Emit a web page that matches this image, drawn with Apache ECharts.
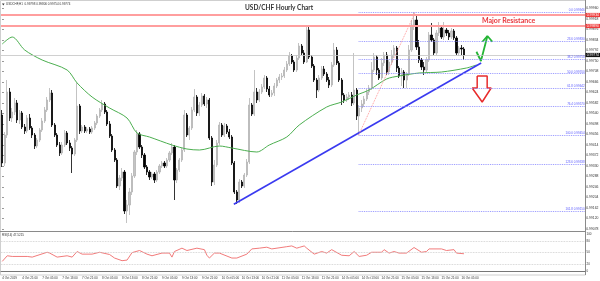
<!DOCTYPE html>
<html><head><meta charset="utf-8">
<script src="https://cdn.jsdelivr.net/npm/echarts@6/dist/echarts.min.js"></script>
<style>html,body{margin:0;padding:0;background:#fff}#c{width:600px;height:281px}</style>
</head><body><div id="c"></div>
<script>
// ---- data ----
const tickLabels = ["4 Oct 2019","4 Oct 21:00","7 Oct 05:00","7 Oct 13:00","7 Oct 21:00","8 Oct 05:00","8 Oct 13:00","8 Oct 21:00","9 Oct 05:00","9 Oct 13:00","9 Oct 21:00","10 Oct 05:00","10 Oct 13:00","10 Oct 21:00","11 Oct 05:00","11 Oct 13:00","11 Oct 21:00","14 Oct 05:00","14 Oct 13:00","14 Oct 21:00","15 Oct 05:00","15 Oct 13:00","15 Oct 21:00","16 Oct 05:00"];
const barsPerLabel = 8;
const totalSlots = 234;
// [open, close, low, high]
const candles = [
[0.99534,0.99342,0.99326,0.99554],[0.99342,0.99454,0.99330,0.99466],[0.99454,0.99626,0.99442,0.99674],[0.99626,0.99522,0.99510,0.99642],
[0.99522,0.99546,0.99506,0.99562],[0.99546,0.99582,0.99534,0.99602],[0.99582,0.99514,0.99502,0.99594],[0.99514,0.99542,0.99498,0.99554],
[0.99542,0.99486,0.99478,0.99550],[0.99486,0.99470,0.99458,0.99498],[0.99470,0.99522,0.99462,0.99534],[0.99522,0.99482,0.99474,0.99538],
[0.99482,0.99454,0.99442,0.99490],[0.99454,0.99410,0.99398,0.99462],[0.99410,0.99434,0.99402,0.99442],[0.99434,0.99474,0.99426,0.99482],
[0.99474,0.99510,0.99466,0.99522],[0.99510,0.99554,0.99502,0.99566],[0.99554,0.99594,0.99546,0.99606],[0.99594,0.99622,0.99586,0.99642],
[0.99622,0.99494,0.99486,0.99634],[0.99494,0.99454,0.99446,0.99502],[0.99454,0.99414,0.99406,0.99462],[0.99414,0.99382,0.99370,0.99426],
[0.99382,0.99414,0.99374,0.99426],[0.99414,0.99462,0.99406,0.99474],[0.99462,0.99422,0.99414,0.99470],[0.99422,0.99402,0.99390,0.99434],
[0.99402,0.99378,0.99302,0.99410],[0.99378,0.99434,0.99370,0.99442],[0.99434,0.99570,0.99426,0.99662],[0.99570,0.99470,0.99458,0.99578],
[0.99470,0.99486,0.99462,0.99494],[0.99486,0.99470,0.99462,0.99494],[0.99470,0.99478,0.99462,0.99486],[0.99478,0.99466,0.99458,0.99486],
[0.99466,0.99482,0.99458,0.99490],[0.99482,0.99502,0.99474,0.99510],[0.99502,0.99530,0.99494,0.99538],[0.99530,0.99554,0.99522,0.99562],
[0.99554,0.99578,0.99546,0.99594],[0.99578,0.99546,0.99538,0.99586],[0.99546,0.99498,0.99490,0.99554],[0.99498,0.99450,0.99442,0.99510],
[0.99450,0.99394,0.99386,0.99458],[0.99394,0.99354,0.99346,0.99402],[0.99354,0.99250,0.99242,0.99362],[0.99250,0.99282,0.99234,0.99294],
[0.99282,0.99306,0.99270,0.99322],[0.99306,0.99150,0.99138,0.99314],[0.99150,0.99174,0.99102,0.99194],[0.99174,0.99226,0.99134,0.99242],
[0.99226,0.99290,0.99214,0.99302],[0.99290,0.99386,0.99282,0.99394],[0.99386,0.99458,0.99374,0.99474],[0.99458,0.99406,0.99398,0.99466],
[0.99406,0.99374,0.99362,0.99414],[0.99374,0.99326,0.99318,0.99382],[0.99326,0.99306,0.99294,0.99334],[0.99306,0.99286,0.99274,0.99314],
[0.99286,0.99298,0.99278,0.99306],[0.99298,0.99274,0.99262,0.99306],[0.99274,0.99306,0.99266,0.99314],[0.99306,0.99330,0.99298,0.99338],
[0.99330,0.99342,0.99322,0.99350],[0.99342,0.99330,0.99322,0.99350],[0.99330,0.99354,0.99322,0.99362],[0.99354,0.99382,0.99346,0.99390],
[0.99382,0.99406,0.99374,0.99422],[0.99406,0.99274,0.99194,0.99414],[0.99274,0.99314,0.99262,0.99322],[0.99314,0.99354,0.99306,0.99362],
[0.99354,0.99394,0.99346,0.99402],[0.99394,0.99534,0.99386,0.99554],[0.99534,0.99454,0.99446,0.99542],[0.99454,0.99482,0.99434,0.99490],
[0.99482,0.99554,0.99474,0.99566],[0.99554,0.99606,0.99546,0.99638],[0.99606,0.99542,0.99530,0.99614],[0.99542,0.99574,0.99530,0.99586],
[0.99574,0.99610,0.99566,0.99622],[0.99610,0.99578,0.99570,0.99618],[0.99578,0.99594,0.99562,0.99606],[0.99594,0.99442,0.99434,0.99602],
[0.99442,0.99266,0.99250,0.99450],[0.99266,0.99334,0.99254,0.99354],[0.99334,0.99422,0.99326,0.99434],[0.99422,0.99494,0.99414,0.99506],
[0.99494,0.99454,0.99446,0.99502],[0.99454,0.99490,0.99446,0.99502],[0.99490,0.99466,0.99458,0.99498],[0.99466,0.99446,0.99438,0.99478],
[0.99446,0.99342,0.99334,0.99454],[0.99342,0.99226,0.99218,0.99350],[0.99226,0.99194,0.99178,0.99234],[0.99194,0.99266,0.99182,0.99278],
[0.99266,0.99250,0.99242,0.99274],[0.99250,0.99294,0.99242,0.99302],[0.99294,0.99346,0.99286,0.99358],[0.99346,0.99574,0.99338,0.99602],
[0.99574,0.99538,0.99530,0.99582],[0.99538,0.99626,0.99530,0.99714],[0.99626,0.99594,0.99582,0.99642],[0.99594,0.99626,0.99586,0.99638],
[0.99626,0.99646,0.99618,0.99658],[0.99646,0.99682,0.99638,0.99694],[0.99682,0.99638,0.99626,0.99690],[0.99638,0.99614,0.99606,0.99650],
[0.99614,0.99622,0.99606,0.99634],[0.99622,0.99650,0.99610,0.99662],[0.99650,0.99674,0.99642,0.99682],[0.99674,0.99686,0.99662,0.99698],
[0.99686,0.99690,0.99674,0.99702],[0.99690,0.99714,0.99682,0.99726],[0.99714,0.99738,0.99706,0.99750],[0.99738,0.99770,0.99730,0.99786],
[0.99770,0.99746,0.99738,0.99778],[0.99746,0.99714,0.99706,0.99754],[0.99714,0.99762,0.99706,0.99774],[0.99762,0.99810,0.99754,0.99822],
[0.99810,0.99782,0.99774,0.99818],[0.99782,0.99746,0.99738,0.99794],[0.99746,0.99874,0.99742,0.99890],[0.99874,0.99766,0.99758,0.99886],
[0.99766,0.99730,0.99722,0.99774],[0.99730,0.99674,0.99666,0.99738],[0.99674,0.99634,0.99602,0.99682],[0.99634,0.99682,0.99626,0.99694],
[0.99682,0.99718,0.99674,0.99730],[0.99718,0.99698,0.99690,0.99730],[0.99698,0.99674,0.99666,0.99706],[0.99674,0.99654,0.99642,0.99686],
[0.99654,0.99734,0.99646,0.99746],[0.99734,0.99794,0.99726,0.99822],[0.99794,0.99742,0.99734,0.99806],[0.99742,0.99674,0.99666,0.99750],
[0.99674,0.99614,0.99574,0.99682],[0.99614,0.99594,0.99582,0.99622],[0.99594,0.99606,0.99586,0.99618],[0.99606,0.99614,0.99594,0.99626],
[0.99614,0.99582,0.99570,0.99626],[0.99582,0.99634,0.99574,0.99782],[0.99634,0.99530,0.99514,0.99642],[0.99530,0.99562,0.99454,0.99574],
[0.99562,0.99578,0.99546,0.99594],[0.99578,0.99598,0.99566,0.99610],[0.99598,0.99626,0.99590,0.99638],[0.99626,0.99642,0.99614,0.99654],
[0.99642,0.99714,0.99634,0.99746],[0.99714,0.99766,0.99706,0.99782],[0.99766,0.99714,0.99694,0.99774],[0.99714,0.99682,0.99674,0.99722],
[0.99682,0.99742,0.99674,0.99762],[0.99742,0.99774,0.99730,0.99786],[0.99774,0.99706,0.99694,0.99786],[0.99706,0.99746,0.99694,0.99754],
[0.99746,0.99774,0.99734,0.99794],[0.99774,0.99802,0.99762,0.99814],[0.99802,0.99722,0.99706,0.99810],[0.99722,0.99690,0.99682,0.99730],
[0.99690,0.99706,0.99650,0.99722],[0.99706,0.99674,0.99642,0.99714],[0.99674,0.99698,0.99642,0.99706],[0.99698,0.99794,0.99690,0.99814],
[0.99794,0.99894,0.99786,0.99914],[0.99894,0.99914,0.99874,0.99946],[0.99914,0.99806,0.99794,0.99934],[0.99806,0.99754,0.99742,0.99834],
[0.99754,0.99726,0.99714,0.99762],[0.99726,0.99714,0.99694,0.99746],[0.99714,0.99754,0.99706,0.99766],[0.99754,0.99854,0.99746,0.99866],
[0.99854,0.99834,0.99826,0.99902],[0.99834,0.99782,0.99774,0.99842],[0.99782,0.99862,0.99774,0.99874],[0.99862,0.99882,0.99850,0.99906],
[0.99882,0.99846,0.99838,0.99890],[0.99846,0.99874,0.99834,0.99906],[0.99874,0.99862,0.99850,0.99882],[0.99862,0.99846,0.99834,0.99874],
[0.99846,0.99870,0.99838,0.99882],[0.99870,0.99842,0.99834,0.99878],[0.99842,0.99782,0.99774,0.99850],[0.99782,0.99802,0.99770,0.99810],
[0.99802,0.99798,0.99774,0.99814],[0.99798,0.99774,0.99754,0.99806]
];
// moving average (green), [bar, price]
const maPoints = [[0,0.99818],[4,0.99846],[9,0.99794],[16,0.99754],[26,0.99714],[30,0.99662],[36,0.99606],[43,0.99562],[50,0.99522],[54,0.99462],[59,0.99446],[68,0.99414],[74,0.99398],[79,0.99394],[87,0.99410],[92,0.99402],[102,0.99386],[107,0.99414],[114,0.99446],[119,0.99494],[130,0.99566],[136,0.99586],[142,0.99614],[147,0.99634],[154,0.99678],[159,0.99690],[167,0.99702],[176,0.99706],[186,0.99722],[190,0.99734]];
// RSI(14), [bar, value]
const rsiPoints = [[0,26.5],[2,41.6],[4,39.8],[10,39.8],[12,38],[18,51],[19,48.8],[22,38],[26,41.6],[28,38],[30,53],[32,46],[36,46],[39,51],[43,45],[45,35.5],[48,28.4],[50,30],[52,50],[55,55.7],[58,46],[60,41.6],[64,48.8],[67,48.8],[68,38],[69,53],[72,62],[74,55.7],[78,62],[81,58],[82,43],[83,35.5],[85,48.8],[87,48.8],[92,35.5],[94,35.5],[98,46],[100,60],[103,62],[106,64.6],[108,60],[114,66],[116,68],[118,62],[119,64],[121,68],[122,62],[125,46],[128,53],[130,48.8],[132,58],[136,43],[139,41.6],[141,53],[143,39.8],[146,43],[148,51],[152,51],[153,58],[155,48.8],[157,53],[159,48.8],[162,48.8],[165,63.7],[168,51],[170,53],[171,60],[176,60],[178,55.7],[181,58],[182,48.8],[185,47]];
const rsiLevels = [80, 50, 20];
const rsiAxisLabels = [0, 20, 50, 80, 100];
const trendLine = [[92.8,0.99177],[191.9,0.99742]];
const resistance = [0.99934, 0.99890];
const lastPrice = 0.99774;
const fibHigh = 0.99946, fibLow = 0.99454;
const fibRatios = [0, 23.6, 38.2, 50, 61.8, 76.4, 100, 123.6, 161.8];
const fibSwing = [[142.8,0.99454],[165.5,0.99946]];
const greenArrow = [[190.0,0.99787],[191.8,0.99750],[194.4,0.99850]];
const greenHead = [[192.4,0.99827],[194.4,0.99850],[196.4,0.99827]];
const redArrow = [[190.3,0.99690],[194.3,0.99690],[194.3,0.99642],[195.9,0.99642],[192.3,0.99586],[188.3,0.99642],[190.3,0.99642],[190.3,0.99690]];
const headerText = 'USDCHF,H1  0.99798 0.99806 0.99754 0.99774';
const rsiText = 'RSI(14) 47.5215';

// ---- chart ----
const cats = Array.from({length: totalSlots}, (_, i) => String(i));
const showIdx = (i) => i % barsPerLabel === 0 && i / barsPerLabel < tickLabels.length;
const fibPrice = r => fibHigh - (fibHigh - fibLow) * r / 100;
const small = 'Liberation Sans';
const plainLine = (name, data, color, width, type, extra) => Object.assign({
  name, type: 'line', xAxisIndex: 1, yAxisIndex: 0, data, showSymbol: false, symbol: 'none',
  lineStyle: {color, width, type: type || 'solid'}, silent: true, animation: false, z: 4
}, extra || {});
const hLine = (value, color, width, bg) => [
  {coord: [-0.5, value], lineStyle: {color, width, type: 'solid'},
    label: {show: true, position: 'end', distance: 0.5, formatter: value.toFixed(5), color: '#fff', backgroundColor: bg, fontSize: 3.4, padding: [0.6, 1.2], fontFamily: small}},
  {coord: [totalSlots - 0.5, value]}
];

const chart = echarts.init(document.getElementById('c'), null, {renderer: 'canvas'});
chart.setOption({
  animation: false,
  backgroundColor: '#ffffff',
  title: [
    {text: 'USD/CHF Hourly Chart', left: 245, top: 4, padding: 0, textStyle: {fontSize: 6.5, fontWeight: 'bold', color: '#333', fontFamily: 'Lato'}},
    {text: 'Major Resistance', left: 482, top: 16.8, padding: 0, textStyle: {fontSize: 7, fontWeight: 'bold', color: '#e8373d', fontFamily: 'Lato'}},
    {text: headerText, left: 6, top: 3, padding: 0, textStyle: {fontSize: 3, fontWeight: 'normal', color: '#333', fontFamily: small}},
    {text: rsiText, left: 2, top: 233.3, padding: 0, textStyle: {fontSize: 3, fontWeight: 'normal', color: '#333', fontFamily: small}}
  ],
  grid: [
    {left: 1, right: 15, top: 8.5, height: 220.5, containLabel: false, outerBoundsMode: 'none'},
    {left: 1, right: 15, top: 234, height: 41, containLabel: false, outerBoundsMode: 'none'}
  ],
  xAxis: [
    {type: 'category', gridIndex: 0, data: cats, boundaryGap: true, show: false},
    {type: 'value', gridIndex: 0, min: -0.5, max: totalSlots - 0.5, show: false},
    {type: 'category', gridIndex: 1, data: cats, boundaryGap: true,
      axisLine: {lineStyle: {color: '#777', width: 1}},
      axisTick: {length: 2, alignWithLabel: true, interval: showIdx, lineStyle: {color: '#777'}},
      axisLabel: {interval: showIdx, align: 'left', fontSize: 3, margin: 1.5, color: '#333', fontFamily: small,
        formatter: (v, i) => showIdx(i) ? tickLabels[i / barsPerLabel] : ''}},
    {type: 'value', gridIndex: 1, min: -0.5, max: totalSlots - 0.5, show: false}
  ],
  yAxis: [
    {type: 'value', gridIndex: 0, position: 'right', min: 0.99078, max: 0.99960, interval: 0.00042,
      axisLine: {show: false}, splitLine: {show: false},
      axisTick: {show: true, length: 1.5, lineStyle: {color: '#777'}},
      axisLabel: {fontSize: 3.4, margin: 1.2, color: '#333', fontFamily: small, formatter: v => v.toFixed(5)}},
    {type: 'value', gridIndex: 1, position: 'right', min: -10, max: 100, interval: 10,
      axisLine: {show: false}, splitLine: {show: false}, axisTick: {show: false},
      axisLabel: {fontSize: 3, margin: 1.5, color: '#333', fontFamily: small,
        formatter: v => rsiAxisLabels.includes(Math.round(v)) ? String(Math.round(v)) : ''}}
  ],
  graphic: [
    {type: 'rect', shape: {x: 0.5, y: 0.5, width: 585, height: 274.5}, style: {fill: null, stroke: '#cfcfcf', lineWidth: 1}, silent: true, z: -10},
    {type: 'line', shape: {x1: 0, y1: 231.5, x2: 585.5, y2: 231.5}, style: {stroke: '#8a8a8a', lineWidth: 1}, silent: true},
    {type: 'line', shape: {x1: 585.5, y1: 0, x2: 585.5, y2: 275}, style: {stroke: '#8a8a8a', lineWidth: 1}, silent: true},
    {type: 'polygon', shape: {points: [[2, 3.6], [4.6, 3.6], [3.3, 5.6]]}, style: {fill: '#333'}, silent: true}
  ],
  series: [
    plainLine('Levels', [], '#ffffff', 0, 'solid', {
      z: 2,
      markLine: {
        silent: true, symbol: ['none', 'none'], animation: false,
        data: [
          hLine(resistance[0], '#ff9e9e', 2.2, '#ee3b3b'),
          hLine(resistance[1], '#ff9e9e', 2.2, '#ee3b3b'),
          hLine(lastPrice, '#c4c4c4', 0.8, '#111111')
        ]
      }
    }),
    {
      name: 'USDCHF', type: 'candlestick', xAxisIndex: 0, yAxisIndex: 0, data: candles, barWidth: 1.6, z: 3,
      itemStyle: {color: '#c4c4c4', color0: '#000000', borderColor: '#b4b4b4', borderColor0: '#000000', borderWidth: 0.8}
    },
    plainLine('MA', maPoints, '#4caf50', 1, 'solid', {smooth: 0.3}),
    plainLine('Trend', trendLine, '#3a3af0', 1.6),
    plainLine('FibSwing', fibSwing, '#ff8c8c', 0.9, 'dotted', {
      markLine: {
        silent: true, symbol: ['none', 'none'], animation: false,
        lineStyle: {color: '#8a8aff', width: 0.9, type: 'dotted'},
        label: {show: true, position: 'insideEndTop', distance: 0.3, fontSize: 3, color: '#5a5aff', fontFamily: small},
        data: fibRatios.map(r => [
          {coord: [142.8, fibPrice(r)], label: {formatter: r.toFixed(1) + ' ' + fibPrice(r).toFixed(5)}},
          {coord: [totalSlots - 0.5, fibPrice(r)]}
        ])
      }
    }),
    plainLine('GreenArrow', greenArrow, '#25b536', 1.8),
    plainLine('GreenHead', greenHead, '#25b536', 1.8),
    plainLine('RedArrow', redArrow, '#e82c2c', 1.5),
    {
      name: 'RSI', type: 'line', xAxisIndex: 3, yAxisIndex: 1, data: rsiPoints, showSymbol: false, symbol: 'none',
      lineStyle: {color: '#f27b7b', width: 1}, silent: true,
      markLine: {
        silent: true, symbol: ['none', 'none'], animation: false, label: {show: false},
        lineStyle: {color: '#c8c8c8', width: 0.8, type: 'dotted'},
        data: rsiLevels.map(v => [{coord: [-0.5, v]}, {coord: [totalSlots - 0.5, v]}])
      }
    }
  ]
});
</script>
</body></html>
